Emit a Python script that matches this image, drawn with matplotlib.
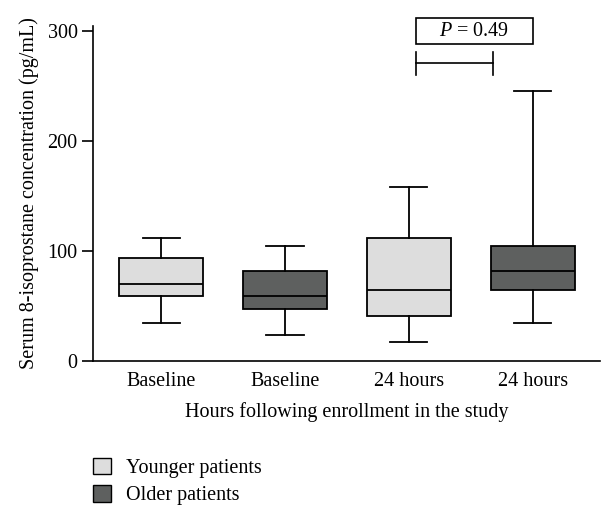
import numpy as np
import matplotlib
matplotlib.use("Agg")
from matplotlib import pyplot as plt
from matplotlib.patches import Patch, Rectangle

plt.rcParams['font.family'] = ['Liberation Serif', 'DejaVu Serif']
plt.rcParams['mathtext.fontset'] = 'custom'
plt.rcParams['mathtext.rm'] = 'Liberation Serif'
plt.rcParams['mathtext.it'] = 'Liberation Serif:italic'

# box statistics (pg/mL)
labels = ["Baseline", "Baseline", "24 hours", "24 hours"]
groups = ["young", "old", "young", "old"]
whislo = [35, 24, 17, 35]
q1 = [59, 47, 41, 65]
med = [70, 59, 65, 82]
q3 = [94, 82, 112, 105]
whishi = [112, 105, 158, 246]

colors = {"young": "#dddddd", "old": "#5e605f"}
fs = 14.5

stats = []
for i in range(len(labels)):
    stats.append({"whislo": whislo[i], "q1": q1[i], "med": med[i],
                  "q3": q3[i], "whishi": whishi[i], "fliers": []})

fig = plt.figure(figsize=(6.06, 5.05), dpi=100)
ax = fig.add_axes([0.1535, 0.285, 0.836, 0.664])

pos = np.arange(1, len(labels) + 1)
bp = ax.bxp(stats, positions=pos, widths=0.68, capwidths=0.3,
            patch_artist=True, showfliers=False,
            boxprops=dict(linewidth=1.3, edgecolor="black"),
            medianprops=dict(color="black", linewidth=1.3),
            whiskerprops=dict(linewidth=1.3),
            capprops=dict(linewidth=1.3))
for box, g in zip(bp["boxes"], groups):
    box.set_facecolor(colors[g])

ax.set_xlim(0.45, 4.54)
ax.set_ylim(0, 305)
ax.set_yticks([0, 100, 200, 300])
ax.set_xticks(pos)
ax.set_xticklabels(labels)
ax.tick_params(axis="x", length=0, labelsize=fs, pad=8)
ax.tick_params(axis="y", length=8, width=1.2, labelsize=fs, pad=3)
ax.spines["top"].set_visible(False)
ax.spines["right"].set_visible(False)
ax.spines["left"].set_linewidth(1.2)
ax.spines["bottom"].set_linewidth(1.2)

ax.set_xlabel("Hours following enrollment in the study", fontsize=fs, labelpad=8)
ax.set_ylabel("Serum 8-isoprostane concentration (pg/mL)", fontsize=fs, labelpad=6)

# significance bracket
x0, x1 = 3.06, 3.68
ax.plot([x0, x1], [271, 271], color="black", lw=1.2, clip_on=False)
ax.plot([x0, x0], [260, 281], color="black", lw=1.2, clip_on=False)
ax.plot([x1, x1], [260, 281], color="black", lw=1.2, clip_on=False)
ax.add_patch(Rectangle((3.06, 288), 0.94, 24, fc="white", ec="black",
                       lw=1.2, clip_on=False))
ax.text(3.53, 300, "$P$ = 0.49", fontsize=fs, ha="center", va="center",
        clip_on=False)

handles = [Patch(facecolor=colors["young"], edgecolor="black", label="Younger patients"),
           Patch(facecolor=colors["old"], edgecolor="black", label="Older patients")]
fig.legend(handles=handles, loc="upper left", bbox_to_anchor=(0.14, 0.11),
           frameon=False, fontsize=fs, handlelength=0.9, handleheight=0.9,
           handletextpad=0.75, labelspacing=0.35, borderaxespad=0)

fig.savefig("out.png", dpi=100)
